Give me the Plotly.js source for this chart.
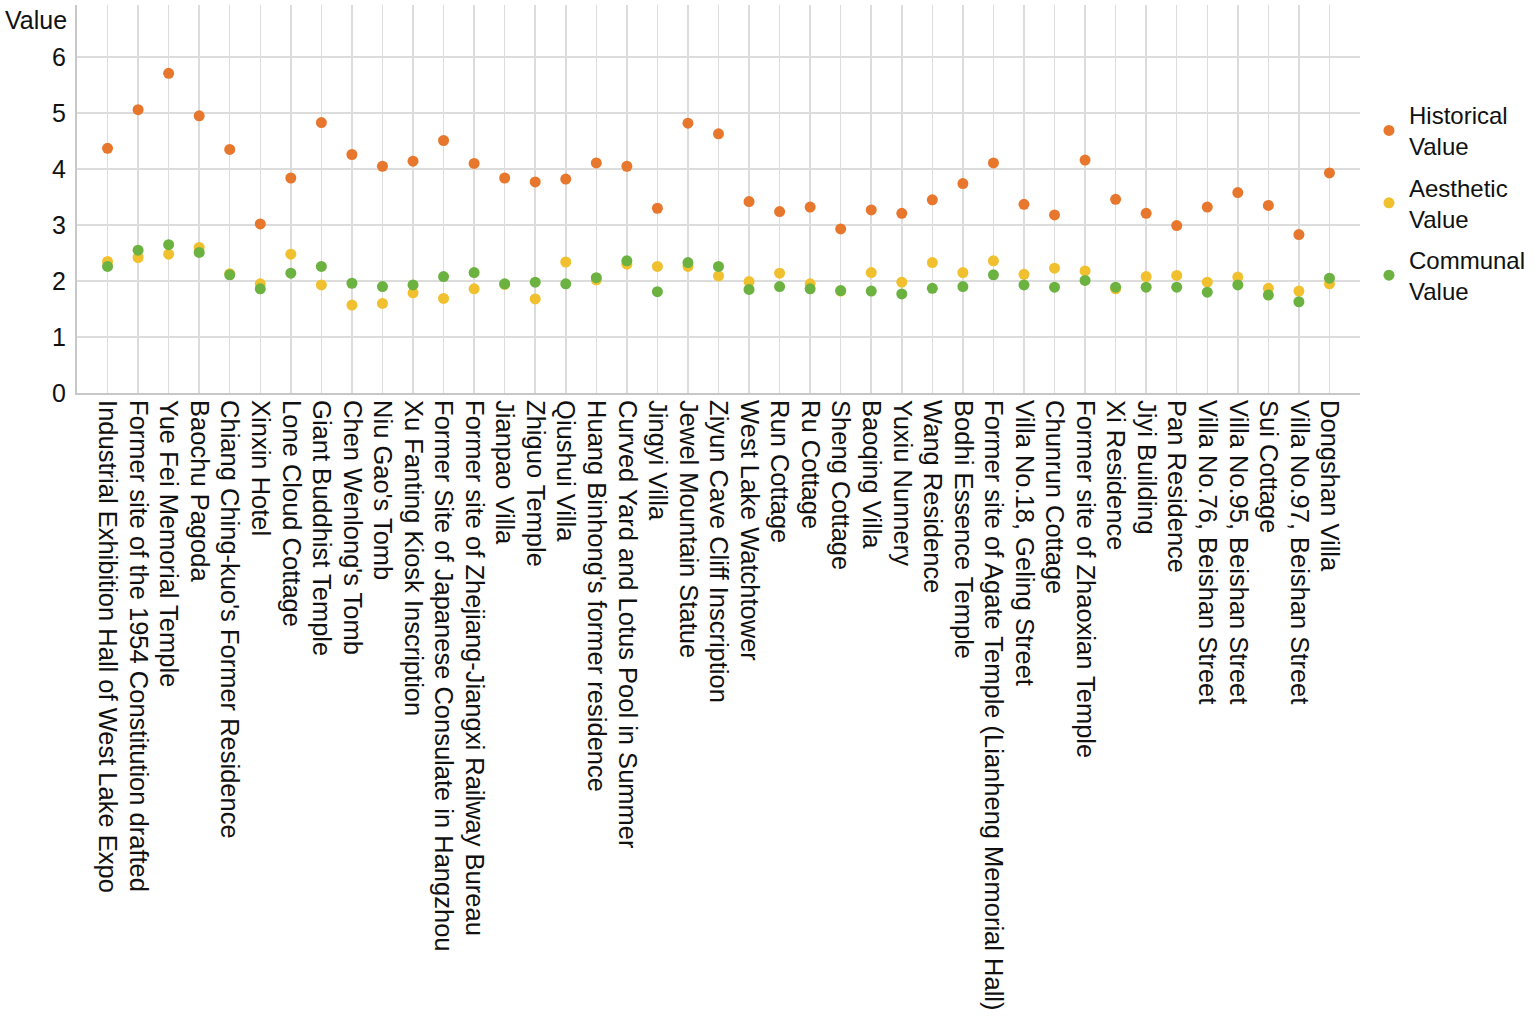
<!DOCTYPE html>
<html>
<head>
<meta charset="utf-8">
<script src="https://cdn.plot.ly/plotly-3.0.1.min.js"></script>
<style>
  html, body { margin: 0; padding: 0; background: #fff; }
  #chart { width: 1536px; height: 1018px; }
</style>
</head>
<body>
<div id="chart"></div>
<script>
// Heritage sites, in the order they appear along the x axis
const sites = [
  'Industrial Exhibition Hall of West Lake Expo',
  'Former site of the 1954 Constitution drafted',
  'Yue Fei Memorial Temple',
  'Baochu Pagoda',
  "Chiang Ching-kuo's Former Residence",
  'Xinxin Hotel',
  'Lone Cloud Cottage',
  'Giant Buddhist Temple',
  "Chen Wenlong's Tomb",
  "Niu Gao's Tomb",
  'Xu Fanting Kiosk Inscription',
  'Former Site of Japanese Consulate in Hangzhou',
  'Former site of Zhejiang-Jiangxi Railway Bureau',
  'Jianpao Villa',
  'Zhiguo Temple',
  'Qiushui Villa',
  "Huang Binhong's former residence",
  'Curved Yard and Lotus Pool in Summer',
  'Jingyi Villa',
  'Jewel Mountain Statue',
  'Ziyun Cave Cliff Inscription',
  'West Lake Watchtower',
  'Run Cottage',
  'Ru Cottage',
  'Sheng Cottage',
  'Baoqing Villa',
  'Yuxiu Nunnery',
  'Wang Residence',
  'Bodhi Essence Temple',
  'Former site of Agate Temple (Lianheng Memorial Hall)',
  'Villa No.18, Geling Street',
  'Chunrun Cottage',
  'Former site of Zhaoxian Temple',
  'Xi Residence',
  'Jiyi Building',
  'Pan Residence',
  'Villa No.76, Beishan Street',
  'Villa No.95, Beishan Street',
  'Sui Cottage',
  'Villa No.97, Beishan Street',
  'Dongshan Villa',
];

const historical = [
  4.37, 5.06, 5.71, 4.95, 4.35, 3.02, 3.84, 4.83, 4.26, 4.05,
  4.14, 4.51, 4.10, 3.84, 3.77, 3.82, 4.11, 4.05, 3.30, 4.82,
  4.63, 3.42, 3.24, 3.32, 2.93, 3.27, 3.21, 3.45, 3.74, 4.11,
  3.37, 3.18, 4.16, 3.46, 3.21, 2.99, 3.32, 3.58, 3.35, 2.83,
  3.93,
];

const aesthetic = [
  2.35, 2.42, 2.48, 2.60, 2.13, 1.95, 2.48, 1.93, 1.57, 1.60,
  1.79, 1.69, 1.86, 1.94, 1.68, 2.34, 2.02, 2.30, 2.26, 2.26,
  2.09, 1.99, 2.14, 1.95, 1.82, 2.15, 1.98, 2.33, 2.15, 2.36,
  2.12, 2.23, 2.18, 1.86, 2.08, 2.10, 1.98, 2.07, 1.87, 1.82,
  1.95,
];

const communal = [
  2.26, 2.55, 2.65, 2.51, 2.11, 1.86, 2.14, 2.26, 1.96, 1.90,
  1.93, 2.08, 2.15, 1.95, 1.98, 1.95, 2.06, 2.36, 1.81, 2.33,
  2.26, 1.85, 1.90, 1.86, 1.83, 1.82, 1.77, 1.87, 1.90, 2.11,
  1.93, 1.89, 2.01, 1.89, 1.89, 1.89, 1.80, 1.93, 1.75, 1.63,
  2.05,
];

const yTicks = [0, 1, 2, 3, 4, 5, 6];

const FONT = 'Liberation Sans, Arial, sans-serif';

function series(name, group, ys, color) {
  return {
    x: sites,
    y: ys,
    name: name,
    legendgroup: group, // own group each, so tracegroupgap spaces the legend rows
    type: 'scatter',
    mode: 'markers',
    marker: { color: color, size: 11 },
    hoverinfo: 'x+y',
  };
}

// drawn in this order, so green ends up on top where dots overlap
const traces = [
  series('Historical<br>Value', 'hist', historical, '#e8772e'),
  series('Aesthetic<br>Value', 'aest', aesthetic, '#f0c02f'),
  series('Communal<br>Value', 'comm', communal, '#6bb241'),
];

const layout = {
  width: 1536,
  height: 1018,
  paper_bgcolor: '#fff',
  plot_bgcolor: '#fff',
  font: { family: FONT, color: '#111', size: 21 },
  margin: { l: 77, r: 174, t: 5, b: 625 },
  showlegend: true,
  legend: {
    x: 1.007,
    xanchor: 'left',
    y: 0.774,
    yanchor: 'top',
    font: { size: 24, color: '#111' },
    tracegroupgap: 7,
    itemwidth: 30,
  },
  xaxis: {
    type: 'category',
    range: [-1, sites.length],
    // every site gets its label, no auto-thinning
    tickmode: 'array',
    tickvals: sites,
    ticktext: sites,
    tickangle: 90,
    showgrid: true,
    gridcolor: '#dcdcdc',
    gridwidth: 1.5,
    showline: true,
    linecolor: '#c8c8c8',
    linewidth: 2,
    ticks: '',
    tickfont: { size: 25.5, color: '#111' },
    fixedrange: true,
  },
  yaxis: {
    range: [0, 6.93],
    tickmode: 'array',
    tickvals: yTicks,
    showgrid: true,
    gridcolor: '#dcdcdc',
    gridwidth: 1.5,
    zeroline: false,
    showline: true,
    linecolor: '#c8c8c8',
    linewidth: 2,
    ticks: '',
    ticklabelstandoff: 4,
    tickfont: { size: 25, color: '#111' },
    fixedrange: true,
  },
  annotations: [{
    text: 'Value',
    xref: 'paper', yref: 'paper',
    x: -0.058, y: 0.961,
    xanchor: 'left', yanchor: 'middle',
    showarrow: false,
    font: { size: 25, color: '#111' },
  }],
};

Plotly.newPlot('chart', traces, layout, { displayModeBar: false, staticPlot: true });
</script>
</body>
</html>
